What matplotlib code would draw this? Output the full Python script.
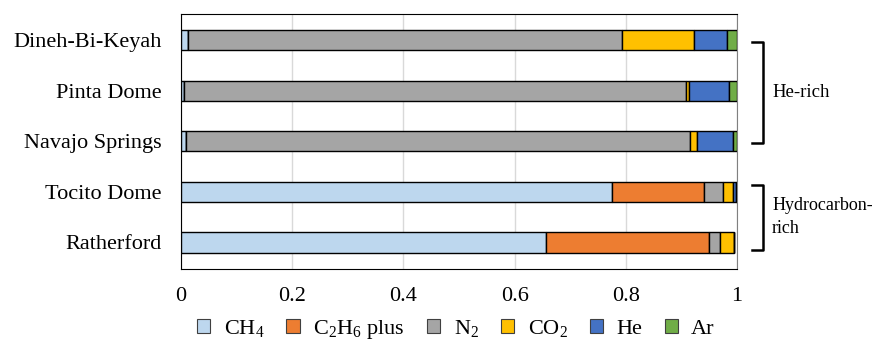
import matplotlib
matplotlib.use("Agg")
import matplotlib.pyplot as plt
import matplotlib.transforms as mtransforms
from matplotlib.patches import Patch

plt.rcParams["font.family"] = ["Liberation Serif", "DejaVu Serif"]
plt.rcParams["mathtext.default"] = "regular"

fields = ["Dineh-Bi-Keyah", "Pinta Dome", "Navajo Springs", "Tocito Dome", "Ratherford"]
ch4 = [0.013, 0.005, 0.009, 0.776, 0.657]
c2h6_plus = [0.0, 0.0, 0.0, 0.164, 0.292]
n2 = [0.780, 0.904, 0.907, 0.035, 0.020]
co2 = [0.129, 0.005, 0.012, 0.018, 0.026]
he = [0.060, 0.071, 0.065, 0.005, 0.0]
ar = [0.018, 0.015, 0.007, 0.002, 0.0]

series = [
    (r"CH$_4$", ch4, "#BDD7EE"),
    (r"C$_2$H$_6$ plus", c2h6_plus, "#ED7D31"),
    (r"N$_2$", n2, "#A5A5A5"),
    (r"CO$_2$", co2, "#FFC000"),
    ("He", he, "#4472C4"),
    ("Ar", ar, "#70AD47"),
]

fig = plt.figure(figsize=(8.8, 3.41), dpi=100)
ax = fig.add_axes([0.2057, 0.212, 0.6318, 0.747])

ypos = list(range(len(fields)))
left = [0.0] * len(fields)
handles = []
for label, vals, color in series:
    ax.barh(ypos, vals, left=left, height=0.4, color=color,
            edgecolor="black", linewidth=1.0, zorder=3)
    left = [l + v for l, v in zip(left, vals)]
    handles.append(Patch(facecolor=color, edgecolor="#404040", linewidth=0.8, label=label))

ax.set_ylim(4.52, -0.52)
ax.set_xlim(0, 1)
ax.set_yticks(ypos)
ax.set_yticklabels(fields, fontsize=16)
ax.set_xticks([0, 0.2, 0.4, 0.6, 0.8, 1])
ax.set_xticklabels(["0", "0.2", "0.4", "0.6", "0.8", "1"], fontsize=16)
ax.tick_params(length=0)
ax.tick_params(axis="y", pad=14)
ax.tick_params(axis="x", pad=13)
ax.grid(axis="x", color="#D9D9D9", linewidth=1.0, zorder=0)
for side in ["left", "bottom", "top"]:
    ax.spines[side].set_color("black")
ax.spines["right"].set_color("#808080")

# group brackets on the right
trans = mtransforms.blended_transform_factory(ax.transAxes, ax.transData)
for y0, y1 in [(0.04, 2.04), (2.87, 4.14)]:
    ax.plot([1.027, 1.047, 1.047, 1.027], [y0, y0, y1, y1], color="black",
            linewidth=1.8, transform=trans, clip_on=False)
ax.text(1.063, 1.04, "He-rich", transform=trans, fontsize=13.5, va="center", ha="left")
ax.text(1.063, 3.5, "Hydrocarbon-\nrich", transform=trans, fontsize=13,
        va="center", ha="left", linespacing=1.45)

fig.legend(handles=handles, loc="center", bbox_to_anchor=(0.518, 0.035), ncol=6,
           frameon=False, fontsize=16, handlelength=0.6, handleheight=0.6,
           handletextpad=0.6, columnspacing=1.0)

fig.savefig("out.png", dpi=100)
